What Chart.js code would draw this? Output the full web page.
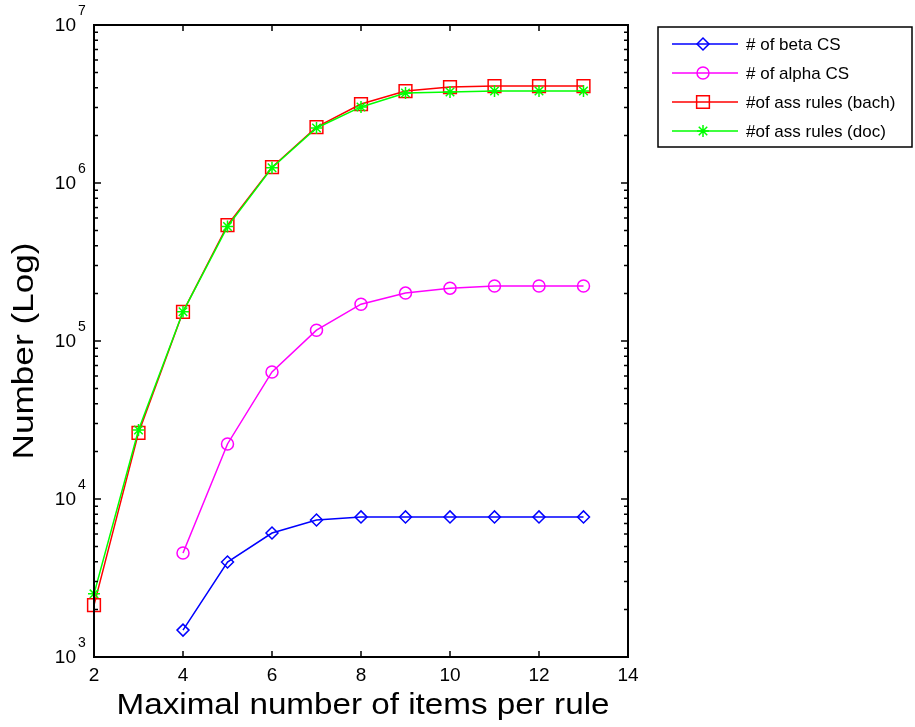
<!DOCTYPE html>
<html>
<head>
<meta charset="utf-8">
<script src="https://cdn.jsdelivr.net/npm/chart.js@4/dist/chart.umd.min.js"></script>
<style>
  html, body { margin: 0; padding: 0; background: #fff; }
  #wrap { width: 915px; height: 727px; }
</style>
</head>
<body>
<div id="wrap"><canvas id="chart"></canvas></div>
<script>
// x values: maximal number of items per rule
const items = [2, 3, 4, 5, 6, 7, 8, 9, 10, 11, 12, 13];
const betaCS = [null, null, 1480, 3990, 6090, 7360, 7700, 7700, 7700, 7700, 7700, 7700];
const alphaCS = [null, null, 4550, 22300, 63700, 117000, 171000, 201000, 216000, 223000, 223000, 223000];
const rulesBach = [2130, 26200, 153000, 542000, 1260000, 2260000, 3160000, 3820000, 4050000, 4110000, 4110000, 4110000];
const rulesDoc = [2510, 27300, 153000, 530000, 1250000, 2230000, 3030000, 3710000, 3770000, 3820000, 3820000, 3820000];

const xTicks = [2, 4, 6, 8, 10, 12, 14];
const yExponents = [3, 4, 5, 6, 7];

const toPoints = (ys) => items.map((x, i) => ({ x: x, y: ys[i] })).filter(p => p.y !== null);

const FONT = '"Liberation Sans", Arial, Helvetica, sans-serif';

const series = [
  { label: '# of beta CS', data: betaCS, color: '#0000ff', style: 'rectRot', radius: 6, order: 3 },
  { label: '# of alpha CS', data: alphaCS, color: '#ff00ff', style: 'circle', radius: 6, order: 2 },
  { label: '#of ass rules (bach)', data: rulesBach, color: '#ff0000', style: 'rect', radius: 9, order: 1 },
  { label: '#of ass rules (doc)', data: rulesDoc, color: '#00ff00', style: 'star', radius: 6, order: 0 }
];

// text stretched to a given width (MATLAB renders its labels wide)
function wideText(ctx, text, x, y, width, rot) {
  const w = ctx.measureText(text).width;
  ctx.save();
  ctx.translate(x, y);
  if (rot) ctx.rotate(rot);
  ctx.scale(width / w, 1);
  ctx.fillText(text, 0, 0);
  ctx.restore();
}

// axes box, ticks, labels, titles and legend in MATLAB style
const matlabFrame = {
  id: 'matlabFrame',
  afterDraw(chart) {
    const ctx = chart.ctx;
    const a = chart.chartArea;
    const xs = chart.scales.x;
    const ys = chart.scales.y;
    ctx.save();
    ctx.strokeStyle = '#000';
    ctx.lineWidth = 2;
    ctx.strokeRect(a.left, a.top, a.right - a.left, a.bottom - a.top);

    ctx.lineWidth = 1.5;
    ctx.beginPath();
    xTicks.forEach(v => {
      const px = xs.getPixelForValue(v);
      ctx.moveTo(px, a.bottom); ctx.lineTo(px, a.bottom - 6);
      ctx.moveTo(px, a.top); ctx.lineTo(px, a.top + 6);
    });
    yExponents.forEach((e, k) => {
      const py = ys.getPixelForValue(Math.pow(10, e));
      ctx.moveTo(a.left, py); ctx.lineTo(a.left + 7, py);
      ctx.moveTo(a.right, py); ctx.lineTo(a.right - 7, py);
      if (k < yExponents.length - 1) {
        for (let m = 2; m <= 9; m++) {
          const pm = ys.getPixelForValue(m * Math.pow(10, e));
          ctx.moveTo(a.left, pm); ctx.lineTo(a.left + 4, pm);
          ctx.moveTo(a.right, pm); ctx.lineTo(a.right - 4, pm);
        }
      }
    });
    ctx.stroke();

    ctx.fillStyle = '#000';
    ctx.font = '19px ' + FONT;
    ctx.textAlign = 'center';
    ctx.textBaseline = 'top';
    xTicks.forEach(v => ctx.fillText(String(v), xs.getPixelForValue(v), a.bottom + 9));

    yExponents.forEach(e => {
      const py = ys.getPixelForValue(Math.pow(10, e));
      ctx.font = '19px ' + FONT;
      ctx.textAlign = 'right';
      ctx.textBaseline = 'middle';
      ctx.fillText('10', a.left - 18, py + 1);
      ctx.font = '14px ' + FONT;
      ctx.textAlign = 'left';
      ctx.fillText(String(e), a.left - 16, py - 14);
    });

    ctx.font = '30px ' + FONT;
    ctx.textAlign = 'center';
    ctx.textBaseline = 'alphabetic';
    wideText(ctx, 'Maximal number of items per rule', 363, 714, 493, 0);
    wideText(ctx, 'Number (Log)', 33, 351, 217, -Math.PI / 2);

    // legend
    const lx = 658, ly = 27, lw = 254, lh = 120;
    ctx.fillStyle = '#fff';
    ctx.fillRect(lx, ly, lw, lh);
    ctx.strokeStyle = '#000';
    ctx.lineWidth = 1.5;
    ctx.strokeRect(lx, ly, lw, lh);
    chart.data.datasets.forEach((ds, i) => {
      const ry = ly + 17 + i * 29;
      ctx.strokeStyle = ds.borderColor;
      ctx.lineWidth = 1.5;
      ctx.beginPath();
      ctx.moveTo(lx + 14, ry); ctx.lineTo(lx + 80, ry);
      ctx.stroke();
      ctx.fillStyle = 'rgba(0,0,0,0)';
      Chart.helpers.drawPoint(ctx, {
        pointStyle: ds.pointStyle, radius: ds.pointRadius, borderWidth: 1.5, rotation: 0
      }, lx + 45, ry);
      ctx.fillStyle = '#000';
      ctx.font = '17px ' + FONT;
      ctx.textAlign = 'left';
      ctx.textBaseline = 'middle';
      ctx.fillText(ds.label, lx + 88, ry + 1);
    });
    ctx.restore();
  }
};

new Chart(document.getElementById('chart'), {
  type: 'line',
  data: {
    datasets: series.map(s => ({
      label: s.label,
      data: toPoints(s.data),
      borderColor: s.color,
      backgroundColor: 'transparent',
      pointBorderColor: s.color,
      pointBackgroundColor: 'transparent',
      pointStyle: s.style,
      pointRadius: s.radius,
      pointBorderWidth: 1.5,
      borderWidth: 1.5,
      tension: 0,
      clip: false,
      order: s.order
    }))
  },
  options: {
    responsive: true,
    maintainAspectRatio: false,
    animation: false,
    layout: { padding: { left: 94, top: 25, right: 287, bottom: 70 } },
    plugins: { legend: { display: false }, tooltip: { enabled: false } },
    scales: {
      x: { type: 'linear', min: 2, max: 14, display: false },
      y: { type: 'logarithmic', min: 1000, max: 10000000, display: false }
    }
  },
  plugins: [matlabFrame]
});
</script>
</body>
</html>
